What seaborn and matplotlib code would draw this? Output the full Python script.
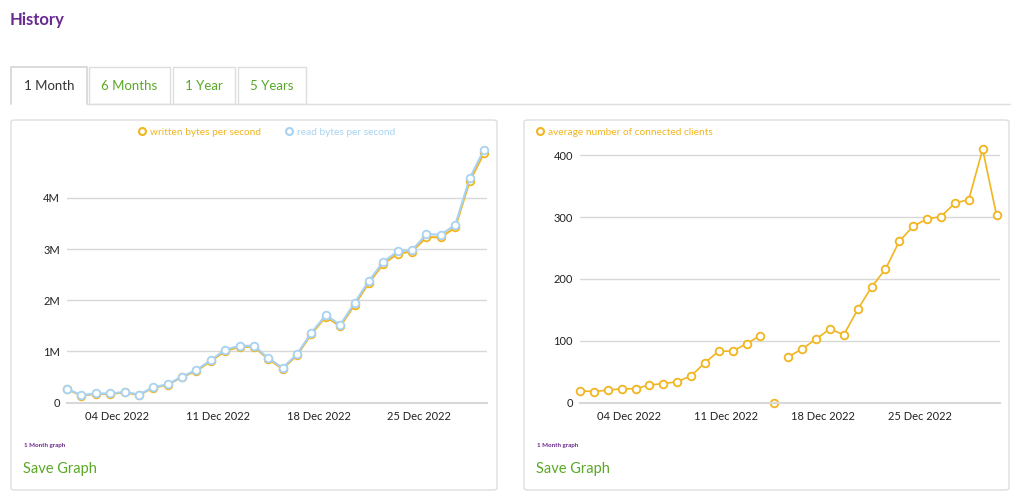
import pandas as pd
import matplotlib.pyplot as plt
import matplotlib.dates as mdates
from matplotlib.lines import Line2D
from matplotlib.patches import FancyBboxPatch, Rectangle
import seaborn as sns

# data (1 month of daily averages)
start_day = "2022-11-30 12:00"
written_mbps = [0.26, 0.14, 0.17, 0.17, 0.20, 0.15, 0.29, 0.35, 0.50, 0.62,
                0.81, 1.01, 1.09, 1.09, 0.85, 0.66, 0.93, 1.34, 1.68, 1.49,
                1.91, 2.34, 2.71, 2.91, 2.95, 3.23, 3.23, 3.42, 4.32, 4.87]
read_mbps = [0.27, 0.145, 0.18, 0.18, 0.21, 0.16, 0.30, 0.36, 0.51, 0.64,
             0.83, 1.035, 1.11, 1.11, 0.87, 0.68, 0.95, 1.37, 1.71, 1.52,
             1.95, 2.38, 2.75, 2.955, 2.98, 3.29, 3.28, 3.47, 4.38, 4.94]
clients = [19.5, 17.8, 20.6, 22.2, 22.7, 28.7, 30.8, 34, 43.3, 64.8,
           83.3, 83.3, 95.6, 108.6, 0, 74, 87, 102.7, 119.4, 109.7,
           150.7, 187, 216, 261, 285.5, 296.8, 301, 322.6, 328.4, 409.7, 303]
bytes_ticks = [0, 1e6, 2e6, 3e6, 4e6]
bytes_tick_labels = ["0", "1M", "2M", "3M", "4M"]
client_ticks = [0, 100, 200, 300, 400]
tab_labels = ["1 Month", "6 Months", "1 Year", "5 Years"]

YELLOW = "#f1b51f"
BLUE = "#a8d2f2"
PURPLE = "#6b2a8f"
GREEN = "#5aa826"
BORDER = "#dedede"

sns.set_style("white")
plt.rcParams["font.family"] = ["Lato", "DejaVu Sans"]

df_bytes = pd.DataFrame({
    "date": pd.date_range(start_day, periods=len(read_mbps), freq="D"),
    "written": [v * 1e6 for v in written_mbps],
    "read": [v * 1e6 for v in read_mbps],
})
df_clients = pd.DataFrame({
    "date": pd.date_range(start_day, periods=len(clients), freq="D"),
    "clients": clients,
})
# a zero reading is shown as a lone point, not joined to its neighbours
is_zero = df_clients["clients"] == 0
df_clients["segment"] = (is_zero != is_zero.shift()).cumsum()

W, H = 1024, 500
fig = plt.figure(figsize=(W / 100, H / 100), dpi=100)


def fx(px):
    return px / W


def fy(py):
    return 1 - py / H


# page header and tabs
fig.text(fx(10), fy(20), "History", color=PURPLE, fontsize=12, fontweight="bold", va="center")
tab_edges = [(11, 87), (89, 170), (173, 235), (238, 306)]
for i, ((x0, x1), label) in enumerate(zip(tab_edges, tab_labels)):
    if i == 0:
        fig.add_artist(Line2D([fx(x0), fx(x0), fx(x1), fx(x1)], [fy(104), fy(67), fy(67), fy(104)],
                              color="#d4d4d4", lw=1.2, transform=fig.transFigure, zorder=-5))
    else:
        fig.add_artist(Rectangle((fx(x0), fy(104)), fx(x1 - x0), (104 - 67) / H, facecolor="white",
                                 edgecolor=BORDER, lw=1, transform=fig.transFigure, zorder=-5))
    fig.text(fx((x0 + x1) / 2), fy(86), label, ha="center", va="center", fontsize=9.5,
             color="#333333" if i == 0 else GREEN)
fig.add_artist(Line2D([fx(87), fx(1010)], [fy(104), fy(104)], color=BORDER, lw=1,
                      transform=fig.transFigure, zorder=-5))

# the two panels
for x0, x1 in [(11, 497), (524, 1009)]:
    fig.add_artist(FancyBboxPatch((fx(x0), fy(490)), fx(x1 - x0), (490 - 120) / H,
                                  boxstyle="round,pad=0,rounding_size=0.004", facecolor="white",
                                  edgecolor=BORDER, lw=1, transform=fig.transFigure, zorder=-5))
    fig.text(fx(x0 + 13), fy(446), "1 Month graph", color=PURPLE, fontsize=4.5, fontweight="bold",
             va="center")
    fig.text(fx(x0 + 12), fy(469), "Save Graph", color=GREEN, fontsize=10.5, va="center")

ax_l = fig.add_axes([fx(67), fy(402.7), fx(420), (402.7 - 145) / H])
ax_r = fig.add_axes([fx(580), fy(402.7), fx(420), (402.7 - 145) / H])

line_kw = dict(marker="o", markersize=5.5, markerfacecolor="white", markeredgewidth=1.3,
               clip_on=False)
sns.lineplot(data=df_bytes, x="date", y="written", ax=ax_l, color=YELLOW,
             markeredgecolor=YELLOW, linewidth=1.5, **line_kw)
sns.lineplot(data=df_bytes, x="date", y="read", ax=ax_l, color=BLUE,
             markeredgecolor=BLUE, linewidth=1.5, **line_kw)
sns.lineplot(data=df_clients, x="date", y="clients", units="segment", estimator=None, ax=ax_r,
             color=YELLOW, markeredgecolor=YELLOW, linewidth=1.2, **line_kw)

ax_l.set_ylim(0, 5.03e6)
ax_l.set_yticks(bytes_ticks, bytes_tick_labels)
ax_l.set_xlim(df_bytes["date"].iloc[0], df_bytes["date"].iloc[-1] + pd.Timedelta(hours=5))
ax_r.set_ylim(0, 416.6)
ax_r.set_yticks(client_ticks, [str(v) for v in client_ticks])
ax_r.set_xlim(df_clients["date"].iloc[0], df_clients["date"].iloc[-1] + pd.Timedelta(hours=6))

for ax in (ax_l, ax_r):
    ax.set_xlabel("")
    ax.set_ylabel("")
    ax.patch.set_alpha(0)
    for side in ("left", "right", "top"):
        ax.spines[side].set_visible(False)
    ax.spines["bottom"].set_color("#d8d8d8")
    ax.spines["bottom"].set_linewidth(1.5)
    ax.grid(axis="y", color="#d8d8d8", linewidth=1)
    ax.set_axisbelow(True)
    ax.xaxis.set_major_locator(mdates.DayLocator(bymonthday=[4, 11, 18, 25]))
    ax.xaxis.set_major_formatter(mdates.DateFormatter("%d %b %Y"))
    ax.tick_params(axis="x", length=4, width=1, color="#cccccc", labelsize=8, pad=2,
                   labelcolor="#222222")
    ax.tick_params(axis="y", length=0, labelsize=8, pad=5, labelcolor="#222222")

# legends
def legend_handle(color):
    return Line2D([], [], linestyle="none", marker="o", markersize=5, markerfacecolor="white",
                  markeredgecolor=color, markeredgewidth=1.5)


fig.legend([legend_handle(YELLOW), legend_handle(BLUE)],
           ["written bytes per second", "read bytes per second"],
           loc="center", bbox_to_anchor=(fx(266), fy(132)), ncol=2, frameon=False, fontsize=7.3,
           labelcolor=[YELLOW, BLUE], handletextpad=0.3, columnspacing=2.2, handlelength=1)
fig.legend([legend_handle(YELLOW)], ["average number of connected clients"],
           loc="center left", bbox_to_anchor=(fx(526), fy(132)), frameon=False, fontsize=7.3,
           labelcolor=[YELLOW], handletextpad=0.3, handlelength=1)

fig.savefig("out.png", dpi=100, facecolor="white")
